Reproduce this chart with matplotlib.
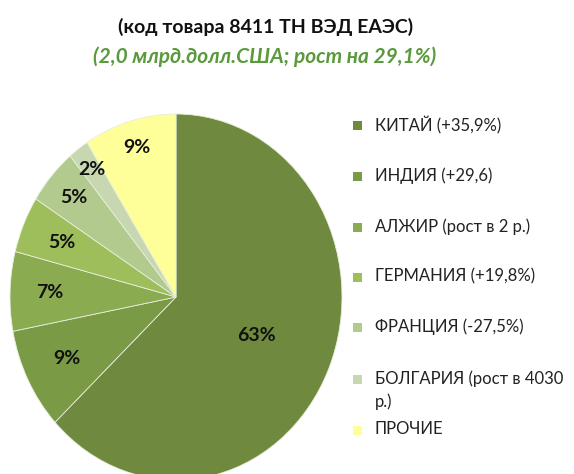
import numpy as np
import matplotlib
matplotlib.use("Agg")
import matplotlib.pyplot as plt
from matplotlib.patches import Rectangle

plt.rcParams['font.family'] = ['Lato', 'Open Sans', 'DejaVu Sans']

countries = ["КИТАЙ (+35,9%)", "ИНДИЯ (+29,6)", "АЛЖИР (рост в 2 р.)",
             "ГЕРМАНИЯ (+19,8%)", "ФРАНЦИЯ (-27,5%)",
             "БОЛГАРИЯ (рост в 4030\nр.)", "ПРОЧИЕ"]
shares = [63, 9, 7, 5, 5, 2, 9]
pct_labels = ["63%", "9%", "7%", "5%", "5%", "2%", "9%"]
colors = ["#6f8a3e", "#7b9a45", "#8bab51", "#9dbe5a", "#b2ca8d", "#c7d8b0", "#ffff99"]

W, H = 574, 474
fig = plt.figure(figsize=(W / 100, H / 100), dpi=100)

# pie is slightly stretched vertically in the original, and clipped at the bottom
cx, cy, rx, ry = 176, 297, 166, 183
ax = fig.add_axes([(cx - rx) / W, (H - cy - ry) / H, 2 * rx / W, 2 * ry / H])
wedges, _ = ax.pie(shares, colors=colors, startangle=90, counterclock=False,
                   wedgeprops=dict(linewidth=0.6, edgecolor="#e8eedd"))
ax.set_aspect("auto")
ax.set_xlim(-1, 1)
ax.set_ylim(-1, 1)

label_r = [0.53, 0.74, 0.76, 0.75, 0.82, 0.86, 0.85]
for w, txt, r in zip(wedges, pct_labels, label_r):
    ang = np.deg2rad((w.theta1 + w.theta2) / 2)
    ax.text(r * np.cos(ang), r * np.sin(ang), txt, ha="center", va="center",
            fontsize=14, fontweight="bold", color="#111111")

fig.text(266 / W, 1 - 27 / H, "(код товара 8411 ТН ВЭД ЕАЭС)", ha="center", va="center",
         fontsize=14, fontweight="bold", color="#111111")
fig.text(265 / W, 1 - 57 / H, "(2,0 млрд.долл.США; рост на 29,1%)", ha="center", va="center",
         fontsize=15, fontweight="bold", fontstyle="italic", color="#5a9a3c")

# legend drawn by hand to follow the original spacing
leg_y = [125, 176, 227, 277, 327, 379, 430]
for y, lab, c in zip(leg_y, countries, colors):
    fig.patches.append(Rectangle((353 / W, 1 - (y + 4.5) / H), 9 / W, 9 / H,
                                 transform=fig.transFigure, facecolor=c, edgecolor="none"))
    fig.text(375 / W, 1 - (y - 8.5) / H, lab, ha="left", va="top",
             fontsize=12, color="#222222", linespacing=1.5)

fig.savefig("out.png", dpi=100)
